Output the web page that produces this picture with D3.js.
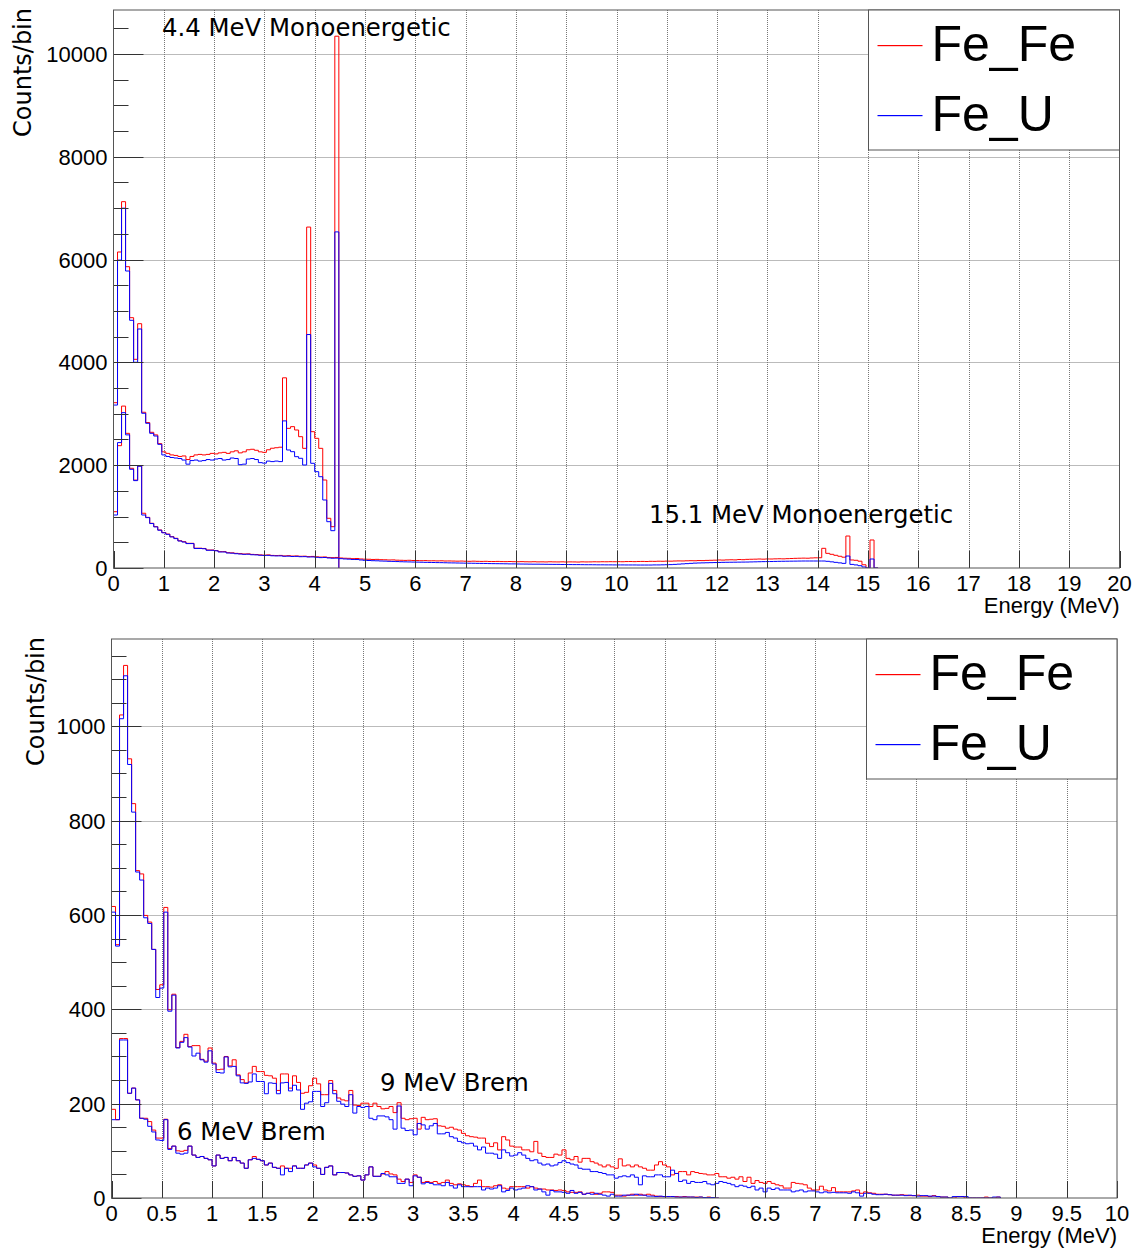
<!DOCTYPE html>
<html><head><meta charset="utf-8">
<script src="https://cdn.jsdelivr.net/npm/d3@7"></script>
<style>body{margin:0;background:#fff}</style>
</head><body>
<svg id="c" width="1139" height="1250" xmlns="http://www.w3.org/2000/svg"></svg>
<script>
// ---------------- DATA ----------------
// Top panel: 0-20 MeV, 250 bins of 0.08 MeV
const topBinWidth = 0.08;
const topXTicks = d3.range(0, 21, 1);
const topYTicks = [0, 2000, 4000, 6000, 8000, 10000];
const mono44_FeFe = [3216,6148,7127,5862,4870,4060,4753,3030,2830,2640,2590,2420,2260,2230,2200,2190,2170,2180,2110,2170,2200,2210,2200,2210,2230,2220,2240,2250,2230,2260,2280,2240,2260,2300,2310,2290,2260,2250,2300,2330,2340,2350,3700,2717,2750,2685,2555,2328,6633,2652,2523,2328,1712,967,804,10346];
const mono44_FeU  = [3170,5990,7000,5778,4819,4002,4650,3010,2815,2620,2568,2406,2200,2170,2150,2140,2130,2100,2020,2090,2100,2080,2090,2110,2100,2120,2130,2100,2110,2140,2130,2010,2020,2120,2130,2110,2050,2040,2080,2070,2080,2070,2862,2296,2263,2166,2134,2004,4542,2037,1874,1776,1323,901,726,6539];
const mono151_FeFe = [1095,2380,3150,2620,1940,1710,1985,1065,985,870,805,740,690,660,610,578,530,512,480,480,385,385,380,350,350,340,318,318,298,295,285,280,272,275,265,262,255,250,255,245,242,245,235,240,232,235,228,230,222,225,218,212,215,205,202,205,195,190,188,182,185,176,172,170,166,168,162,160,156,158,152,150,148,150,146,145,142,144,140,141,138,140,136,137,135,133,135,132,130,133,130,128,130,127,126,128,125,124,126,123,122,124,121,120,122,119,120,118,121,119,118,120,117,119,118,116,120,118,119,121,120,122,121,123,122,124,122,125,126,124,127,128,126,130,129,132,131,134,133,136,138,137,140,142,141,145,144,148,150,152,156,154,158,160,158,165,162,168,170,172,175,172,176,175,178,180,178,182,185,188,190,192,190,195,198,200,383,285,266,247,228,210,622,156,150,132,63,0,545,0];
const mono151_FeU = [1031,2440,3022,2590,1920,1700,1980,1031,980,865,800,735,685,655,605,572,525,505,475,475,380,380,375,345,345,335,312,312,292,288,278,272,266,268,258,255,248,244,246,238,235,236,228,230,224,226,220,221,214,215,208,202,204,195,190,192,182,176,172,166,165,156,150,146,142,140,136,134,130,128,125,122,120,118,116,114,112,110,108,107,105,104,102,100,99,97,96,94,93,92,90,89,88,86,85,84,83,82,80,80,78,77,76,75,74,74,73,72,71,70,70,68,68,67,66,66,65,64,64,63,62,62,61,61,60,60,60,59,59,59,58,58,58,58,60,60,62,64,66,70,75,80,85,90,95,98,100,102,104,106,108,110,111,112,113,114,115,116,118,120,122,124,125,126,128,130,131,132,133,134,135,136,136,136,136,136,136,130,120,110,100,90,233,70,60,45,20,0,175,0];

// Bottom panel: 0-10 MeV, 250 bins of 0.04 MeV
const botBinWidth = 0.04;
const botXTicks = d3.range(0, 10.01, 0.5);
const botYTicks = [0, 200, 400, 600, 800, 1000];
const brem9_FeFe = [618,537,1024,1129,931,836,694,687,599,585,527,442,452,616,399,432,319,332,347,321,323,323,294,290,318,286,272,273,300,280,293,261,251,244,265,279,268,268,260,259,254,228,263,263,233,259,245,222,224,238,254,242,219,219,249,228,212,208,206,228,197,196,201,201,194,201,194,189,190,194,181,202,169,166,168,169,146,171,166,167,168,153,152,148,150,146,144,137,132,130,129,127,127,116,109,117,102,130,123,110,108,108,102,102,98,120,95,88,86,86,93,91,102,84,81,88,76,84,84,77,74,70,66,70,66,63,83,68,70,66,70,66,63,59,59,70,77,70,66,49,52,56,56,49,56,54,52,51,49,49,52,45,45,42,44,40,45,35,44,31,37,33,31,35,31,28,26,21,21,33,31,30,28,21,17,17,25,17,15,22,13,13,13,13,15,17,10,13,11,10,8,8,8,7,6,6,7,6,5,5,6,4,4,3,5,3,2,2,0,0,3,3,0,0,0,0,0,2,0,0,2];
const brem9_FeU = [606,534,1016,1107,919,818,691,674,594,582,527,425,445,606,396,430,318,330,340,320,301,307,293,288,312,284,266,265,299,278,279,259,244,243,246,263,247,247,221,244,243,221,244,245,227,239,229,188,201,204,226,226,194,202,243,221,205,199,194,219,180,194,192,194,169,166,174,174,172,166,146,195,148,143,144,134,158,155,146,153,158,136,136,139,130,127,120,117,115,116,110,102,108,95,95,93,84,102,96,89,91,96,91,84,79,81,74,70,72,68,70,75,79,75,72,70,63,61,61,56,56,54,52,49,49,42,45,47,45,49,44,28,47,45,45,49,49,45,45,59,52,35,38,31,35,33,33,35,30,28,31,35,33,31,28,24,27,25,22,25,17,21,13,21,18,21,17,17,17,13,15,17,13,15,15,13,11,13,11,12,11,11,11,10,13,11,4,10,10,8,7,7,8,7,6,6,6,5,6,5,4,5,5,4,4,3,2,2,0,3,3,3,3,0,0,0,0,0,0,2,2];
const brem6_FeFe = [188,166,338,338,222,233,208,169,169,162,144,127,127,167,105,110,100,99,101,110,91,86,88,84,81,68,91,84,86,79,86,79,74,63,81,88,82,79,70,74,65,63,68,63,63,68,63,63,70,74,70,63,50,65,68,49,54,54,53,49,46,47,38,49,66,46,46,51,56,51,49,40,35,40,33,49,44,33,35,33,35,31,33,38,31,28,30,28,26,24,31,38,24,24,23,26,28,21,19,24,24,24,24,21,24,21,19,19,17,17,16,17,16,13,12,12,13,8,10,12,8,10,13,13,12,6,6,4,6,8,6,8,6,8,6,4,3,3,3,3,3,2,3,2,2,2,2,1,2,1,0];
const brem6_FeU = [166,166,335,335,222,233,208,169,167,152,140,123,122,166,103,110,95,93,95,110,91,86,88,84,81,68,91,84,86,79,86,79,74,63,81,84,82,79,70,74,65,63,49,63,56,68,63,63,70,74,66,63,50,65,68,49,54,54,53,49,46,47,38,49,66,46,46,52,49,45,45,31,31,40,26,47,44,30,33,31,28,28,26,33,26,21,28,24,24,24,24,24,17,21,19,21,26,13,16,21,17,19,21,26,24,17,19,13,6,16,13,13,12,10,16,10,12,8,10,8,10,8,6,4,8,4,4,6,6,6,8,6,6,4,4,3,4,3,3,3,2,2,2,2,2,1,2,1,1,1,0];

const legendNames = ["Fe_Fe", "Fe_U"];
const colors = {Fe_Fe: "#ff0000", Fe_U: "#0000ff"};

// ---------------- DRAW ----------------
const svg = d3.select('#c');
const TICKFONT = "'Liberation Sans', Arial, Helvetica, sans-serif";
const TEXTFONT = "'DejaVu Sans', sans-serif";

function stepPath(vals, bw, x, y) {
  let d = `M${x(0)},${y(0)}`;
  vals.forEach((v, i) => {
    d += `L${x(i*bw)},${y(v)}L${x((i+1)*bw)},${y(v)}`;
  });
  d += `L${x(vals.length*bw)},${y(0)}`;
  return d;
}

function panel(cfg, id) {
  const x = d3.scaleLinear().domain([0, cfg.xmax]).range([cfg.left, cfg.right]);
  const y = d3.scaleLinear().domain([0, cfg.ymax]).range([cfg.bottom, cfg.top]);
  const g = svg.append('g');
  g.append('clipPath').attr('id', 'clip'+id).append('rect')
    .attr('x', cfg.left).attr('y', cfg.top)
    .attr('width', cfg.right-cfg.left).attr('height', cfg.bottom-cfg.top);

  // grid
  const grid = g.append('g').attr('stroke', '#777').attr('stroke-width', 1).attr('stroke-dasharray', '1,1');
  cfg.xticks.forEach(t => { if (t>0 && t<cfg.xmax) grid.append('line').attr('x1', Math.round(x(t))+0.5).attr('x2', Math.round(x(t))+0.5).attr('y1', cfg.top).attr('y2', cfg.bottom); });
  cfg.yticks.forEach(t => { if (t>0) grid.append('line').attr('y1', Math.round(y(t))+0.5).attr('y2', Math.round(y(t))+0.5).attr('x1', cfg.left).attr('x2', cfg.right); });

  // histograms
  const hg = g.append('g').attr('clip-path', `url(#clip${id})`);
  cfg.series.forEach(s => {
    hg.append('path').attr('d', stepPath(s.vals, cfg.bw, x, y))
      .attr('fill', 'none').attr('stroke', s.color).attr('stroke-width', 1);
  });

  // ticks (inside)
  const tk = g.append('g').attr('stroke', '#333').attr('stroke-width', 1);
  const ymin = d3.range(0, cfg.ymax, cfg.yminor);
  ymin.forEach(t => {
    const major = cfg.yticks.includes(t);
    const yy = Math.round(y(t))+0.5;
    tk.append('line').attr('x1', cfg.left).attr('x2', cfg.left + (major ? 30 : 15)).attr('y1', yy).attr('y2', yy);
  });
  cfg.xticks.forEach(t => {
    const xx = Math.round(x(t))+0.5;
    tk.append('line').attr('x1', xx).attr('x2', xx).attr('y1', cfg.bottom).attr('y2', cfg.bottom - 17);
  });

  // frame
  g.append('rect').attr('x', cfg.left).attr('y', cfg.top)
    .attr('width', cfg.right-cfg.left).attr('height', cfg.bottom-cfg.top)
    .attr('fill', 'none').attr('stroke', '#555').attr('stroke-width', 1);

  // tick labels
  cfg.yticks.forEach(t => {
    g.append('text').attr('x', cfg.left - 6).attr('y', y(t) + 8)
      .attr('text-anchor', 'end').attr('font-family', TICKFONT).attr('font-size', 22).text(t);
  });
  cfg.xticks.forEach(t => {
    g.append('text').attr('x', x(t)).attr('y', cfg.bottom + 23)
      .attr('text-anchor', 'middle').attr('font-family', TICKFONT).attr('font-size', 22).text(d3.format('~g')(t));
  });
  // axis titles
  g.append('text').attr('x', cfg.right).attr('y', cfg.bottom + 45)
    .attr('text-anchor', 'end').attr('font-family', TICKFONT).attr('font-size', 22).text('Energy (MeV)');
  g.append('text').attr('transform', `translate(${cfg.ytitleX},${cfg.top - 2}) rotate(-90)`)
    .attr('text-anchor', 'end').attr('font-family', TEXTFONT).attr('font-size', 24).text('Counts/bin');

  // annotations
  cfg.notes.forEach(n => {
    g.append('text').attr('x', n.x).attr('y', n.y).attr('font-family', TEXTFONT).attr('font-size', 24.4).text(n.t);
  });

  // legend
  const L = cfg.legend;
  const lg = svg.append('g').attr('class', 'legend' + id);
  lg.append('rect').attr('x', L.x).attr('y', cfg.top).attr('width', cfg.right - L.x).attr('height', L.h)
    .attr('fill', '#fff').attr('stroke', '#555');
  legendNames.forEach((nm, i) => {
    const ly = Math.round(L.y0 + i*70);
    lg.append('rect').attr('x', L.x + 9).attr('y', ly).attr('width', 45).attr('height', 1.2)
      .attr('fill', colors[nm]).attr('stroke', 'none');
    lg.append('text').attr('x', L.x + 63).attr('y', ly + 16).attr('font-family', TICKFONT).attr('font-size', 50).attr('fill', '#000').text(nm);
  });
}

panel({left: 113.5, right: 1119.5, top: 10, bottom: 568, xmax: 20, ymax: 10856, bw: topBinWidth,
  xticks: topXTicks, yticks: topYTicks, yminor: 500, ytitleX: 31,
  series: [
    {vals: mono44_FeFe, color: colors.Fe_Fe}, {vals: mono44_FeU, color: colors.Fe_U},
    {vals: mono151_FeFe, color: colors.Fe_Fe}, {vals: mono151_FeU, color: colors.Fe_U}],
  notes: [{x: 162, y: 36, t: '4.4 MeV Monoenergetic'}, {x: 649, y: 523, t: '15.1 MeV Monoenergetic'}],
  legend: {x: 868.5, h: 140, y0: 45}
}, 1);

panel({left: 111.5, right: 1117, top: 639, bottom: 1198, xmax: 10, ymax: 1185, bw: botBinWidth,
  xticks: botXTicks, yticks: botYTicks, yminor: 50, ytitleX: 44,
  series: [
    {vals: brem9_FeFe, color: colors.Fe_Fe}, {vals: brem9_FeU, color: colors.Fe_U},
    {vals: brem6_FeFe, color: colors.Fe_Fe}, {vals: brem6_FeU, color: colors.Fe_U}],
  notes: [{x: 380, y: 1091, t: '9 MeV Brem'}, {x: 177, y: 1140, t: '6 MeV Brem'}],
  legend: {x: 866.5, h: 140, y0: 674}
}, 2);
</script>
</body></html>
